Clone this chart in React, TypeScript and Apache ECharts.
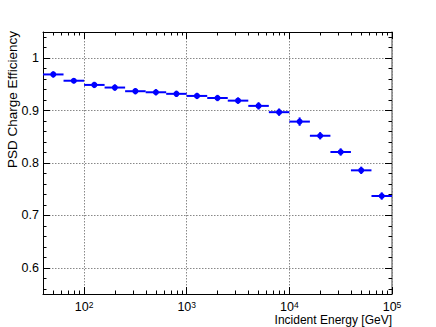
import React, { useEffect, useRef } from "react";
import * as echarts from "echarts";

// Energy bin edges (GeV) and measured PSD charge efficiency per bin
const energyBinEdgesGeV = [
  39.8, 63.1, 100, 158.5, 251.2, 398.1, 631, 1000, 1585, 2512, 3981, 6310,
  10000, 15850, 25120, 39810, 63100, 100000,
];
const efficiency = [
  0.969, 0.957, 0.949, 0.944, 0.937, 0.935, 0.932, 0.928, 0.924, 0.919, 0.909,
  0.897, 0.879, 0.852, 0.821, 0.786, 0.737,
];
const efficiencyError = [
  0.006, 0.005, 0.006, 0.006, 0.006, 0.006, 0.006, 0.006, 0.006, 0.006, 0.007,
  0.007, 0.008, 0.007, 0.007, 0.007, 0.007,
];

// Axis ticks
const xMajorTicksGeV = [100, 1000, 10000, 100000];
const xMinorTicksGeV = [
  50, 60, 70, 80, 90, 200, 300, 400, 500, 600, 700, 800, 900, 2000, 3000, 4000,
  5000, 6000, 7000, 8000, 9000, 20000, 30000, 40000, 50000, 60000, 70000, 80000,
  90000,
];
const yMajorTicks = [0.6, 0.7, 0.8, 0.9, 1.0];
const yMinorTicks = [
  0.56, 0.58, 0.62, 0.64, 0.66, 0.68, 0.72, 0.74, 0.76, 0.78, 0.82, 0.84, 0.86,
  0.88, 0.92, 0.94, 0.96, 0.98, 1.02, 1.04,
];

const X_MIN = 1.6;
const X_MAX = 5;
const Y_MIN = 0.55;
const Y_MAX = 1.05;
const BLUE = "#0000ff";
const FONT = "Liberation Sans, Arial, Helvetica, sans-serif";

export default function App() {
  const ref = useRef<HTMLDivElement>(null);

  useEffect(() => {
    if (!ref.current) return;
    document.body.style.margin = "0";
    document.body.style.overflow = "hidden";
    const chart = echarts.init(ref.current, undefined, { renderer: "svg" });

    const lg = (v: number) => Math.log10(v);
    const xMajor = xMajorTicksGeV.map(lg);
    const xMinor = xMinorTicksGeV.map(lg);

    const data = efficiency.map((eff, i) => [
      lg(energyBinEdgesGeV[i]),
      lg(energyBinEdgesGeV[i + 1]),
      eff,
      efficiencyError[i],
    ]);

    const gridLine = {
      show: true,
      lineStyle: { color: "#888", width: 1, type: [1.5, 1.5] as any },
    };

    const xBase = (position: "bottom" | "top", major: boolean, lineColor: string) => ({
      type: "value" as const,
      position,
      min: X_MIN,
      max: X_MAX,
      axisLine: { show: major, onZero: false, lineStyle: { color: lineColor, width: 1 } },
      axisTick: {
        show: true,
        inside: true,
        length: major ? 7 : 3.5,
        customValues: major ? xMajor : xMinor,
        lineStyle: { color: "#000", width: 1 },
      },
      axisLabel: { show: false },
      splitLine: { show: false },
    });

    const yBase = (position: "left" | "right", major: boolean, lineColor: string) => ({
      type: "value" as const,
      position,
      min: Y_MIN,
      max: Y_MAX,
      axisLine: {
        show: major,
        onZero: false,
        lineStyle: { color: lineColor, width: position === "right" ? 1.5 : 1 },
      },
      axisTick: {
        show: true,
        inside: true,
        length: major ? 7 : 3.5,
        customValues: major ? yMajorTicks : yMinorTicks,
        lineStyle: { color: "#000", width: 1 },
      },
      axisLabel: { show: false },
      splitLine: { show: false },
    });

    const xMain: any = xBase("bottom", true, "#000");
    xMain.axisLabel = {
      show: true,
      customValues: xMajor,
      margin: 6,
      formatter: (v: number) => `{b|10}{s|${Math.round(v)}}`,
      rich: {
        b: { fontSize: 12.5, fontFamily: FONT, color: "#000", lineHeight: 14, verticalAlign: "middle" },
        s: { fontSize: 8.5, fontFamily: FONT, color: "#000", verticalAlign: "top" },
      },
    };
    xMain.splitLine = gridLine;

    const yMain: any = yBase("left", true, "#000");
    yMain.axisLabel = {
      show: true,
      customValues: yMajorTicks,
      margin: 4,
      fontSize: 12.5,
      fontFamily: FONT,
      color: "#000",
      formatter: (v: number) => (Math.abs(v - 1) < 1e-9 ? "1" : v.toFixed(1)),
    };
    yMain.splitLine = gridLine;

    chart.setOption({
      animation: false,
      backgroundColor: "#fff",
      grid: { left: 43, right: 44, top: 32, bottom: 33, containLabel: false },
      xAxis: [
        xMain,
        xBase("bottom", false, "#000"),
        xBase("top", true, "#000"),
        xBase("top", false, "#000"),
      ],
      yAxis: [
        yMain,
        yBase("left", false, "#000"),
        yBase("right", true, "#808080"),
        yBase("right", false, "#808080"),
      ],
      graphic: [
        {
          type: "text",
          x: 12,
          y: 31,
          rotation: Math.PI / 2,
          style: {
            text: "PSD Charge Efficiency",
            fontSize: 13.5,
            fontFamily: FONT,
            fill: "#000",
            align: "right",
            verticalAlign: "middle",
          },
        },
        {
          type: "text",
          x: 392,
          y: 320,
          style: {
            text: "Incident Energy [GeV]",
            fontSize: 12,
            fontFamily: FONT,
            fill: "#000",
            align: "right",
            verticalAlign: "middle",
          },
        },
      ],
      series: [
        {
          type: "custom",
          xAxisIndex: 0,
          yAxisIndex: 0,
          encode: { x: [0, 1], y: 2 },
          data,
          renderItem: (_params: any, api: any) => {
            const x0 = api.value(0);
            const x1 = api.value(1);
            const y = api.value(2);
            const e = api.value(3);
            const xc = (x0 + x1) / 2;
            const lo = api.coord([x0, y]);
            const hi = api.coord([x1, y]);
            const c = api.coord([xc, y]);
            const top = api.coord([xc, y + e]);
            const bot = api.coord([xc, y - e]);
            return {
              type: "group",
              children: [
                {
                  type: "line",
                  shape: { x1: lo[0], y1: lo[1], x2: hi[0], y2: hi[1] },
                  style: { stroke: BLUE, lineWidth: 2 },
                },
                {
                  type: "line",
                  shape: { x1: c[0], y1: top[1], x2: c[0], y2: bot[1] },
                  style: { stroke: BLUE, lineWidth: 2 },
                },
                {
                  type: "circle",
                  shape: { cx: c[0], cy: c[1], r: 3 },
                  style: { fill: BLUE },
                },
              ],
            };
          },
        },
      ],
    });

    return () => chart.dispose();
  }, []);

  return (
    <div
      ref={ref}
      style={{ position: "fixed", left: 0, top: 0, width: 436, height: 327 }}
    />
  );
}
